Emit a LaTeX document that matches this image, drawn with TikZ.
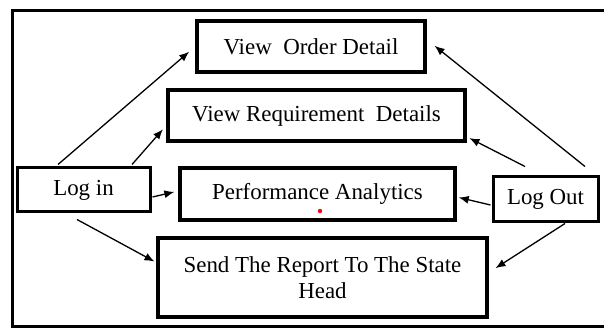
\documentclass[tikz,border=0pt]{standalone}
\usepackage{fontspec}
\setmainfont{Liberation Serif}
\usetikzlibrary{arrows.meta,calc,positioning}

\tikzset{
  usecase/.style={draw,line width=3.5bp,inner sep=0pt,align=center,
    font=\fontsize{23}{26}\selectfont},
  actor/.style={usecase,line width=3bp},
  link/.style={->,line width=1.3bp},
}

\begin{document}
\begin{tikzpicture}[>={Latex[length=10bp,width=8bp]},line join=miter]
\useasboundingbox (0bp,0bp) rectangle (604bp,329bp);
%% frame, open on the right
\draw [line width=3bp] (612bp,318bp) -- (12bp,318bp) -- (12bp,2bp) -- (612bp,2bp);
%% use cases
\node (ord) at (311bp,282.5bp) [usecase,minimum width=228bp,minimum height=51bp] {View~~Order Detail};
  \node (req) at (316.5bp,213.5bp) [usecase,minimum width=297bp,minimum height=51bp] {View Requirement~~Details};
  \node (perf) at (317.5bp,135bp) [usecase,minimum width=275bp,minimum height=52bp] {Performance Analytics};
  \node (rep) at (322.5bp,51.5bp) [usecase,minimum width=329bp,minimum height=79bp] {Send The Report To The State\\Head};
%% actors
\node (login) at (83.5bp,139bp) [actor,minimum width=133bp,minimum height=44bp] {Log in};
  \node (logout) at (545.5bp,129.5bp) [actor,minimum width=105bp,minimum height=45bp] {Log Out};
  \fill [red] (320bp,118bp) circle (2.2bp);
%% links from Log in
\draw [link,shorten >=8bp] ($(login.north)+(-25.5bp,2bp)$) -- (ord.west);
  \draw [link,shorten >=5bp] ($(login.north)+(48.5bp,2bp)$) -- ($(req.west)+(0,-10bp)$);
  \draw [link,shorten >=4bp] ($(login.east)+(1bp,-7bp)$) -- ($(perf.west)+(0,3bp)$);
  \draw [link,shorten >=2bp] ($(login.south)+(-6.5bp,-6bp)$) -- ($(rep.west)+(0,15bp)$);
%% links from Log Out
\draw [link,shorten >=10bp] ($(logout.north)+(39.5bp,9bp)$) -- ($(ord.east)+(0,7bp)$);
  \draw [link,shorten >=3bp] ($(logout.north)+(-20.5bp,9bp)$) -- ($(req.south east)+(0,6bp)$);
  \draw [link,shorten >=2bp] ($(logout.west)+(-1bp,-5.5bp)$) -- ($(perf.east)+(0,-3bp)$);
  \draw [link,shorten >=8bp] ($(logout.south)+(19.5bp,0)$) -- ($(rep.east)+(0,5bp)$);
%
\end{tikzpicture}
\end{document}
